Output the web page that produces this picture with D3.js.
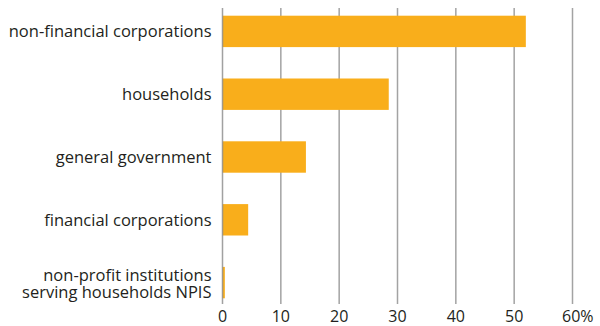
<!DOCTYPE html>
<html>
<head>
<meta charset="utf-8">
<script src="https://cdn.jsdelivr.net/npm/d3@7"></script>
<style>
  body { margin: 0; background: #fff; }
  svg { display: block; font-family: 'Open Sans', sans-serif; }
  .cat { font-size: 16.5px; fill: #231f20; }
  .tick-label { font-size: 16px; fill: #231f20; }
</style>
</head>
<body>
<svg width="600" height="326"></svg>
<script>
const categories = [
  ['non-financial corporations'],
  ['households'],
  ['general government'],
  ['financial corporations'],
  ['non-profit institutions', 'serving households NPIS']
];
const values = [52.0, 28.5, 14.3, 4.4, 0.4];
const tickValues = [0, 10, 20, 30, 40, 50, 60];
const tickLabels = ['0', '10', '20', '30', '40', '50', '60%'];

const svg = d3.select('svg'),
    margin = {top: 0, left: 222.5, right: 27.5, bottom: 12},
    width = +svg.attr('width') - margin.left - margin.right,
    height = +svg.attr('height') - margin.top - margin.bottom;

const barColor = '#f9ae1b';

const x = d3.scaleLinear().domain([0, 60]).range([0, width]);
const y = d3.scaleBand().domain(d3.range(values.length)).range([0, height]).paddingInner(0.5).paddingOuter(0.25);

const g = svg.append('g')
  .attr('transform', 'translate(' + margin.left + ',' + margin.top + ')');

// gridlines behind bars
g.selectAll('.grid')
  .data(tickValues.filter(function(d) { return d !== 0; }))
  .enter().append('line')
    .attr('class', 'grid')
    .attr('x1', function(d) { return x(d); })
    .attr('x2', function(d) { return x(d); })
    .attr('y1', 8)
    .attr('y2', 304)
    .attr('stroke', '#a3a3a3')
    .attr('stroke-width', 1.5);

g.selectAll('.bar')
  .data(values)
  .enter().append('rect')
    .attr('class', 'bar')
    .attr('x', x(0))
    .attr('y', function(d, i) { return y(i); })
    .attr('width', function(d) { return x(d) - x(0); })
    .attr('height', y.bandwidth())
    .attr('fill', barColor);

// zero line on top
g.append('line')
  .attr('x1', x(0)).attr('x2', x(0))
  .attr('y1', 8).attr('y2', 304)
  .attr('stroke', '#8a8a8a')
  .attr('stroke-opacity', 0.8)
  .attr('stroke-width', 1.5);

g.selectAll('.tick-label')
  .data(tickValues)
  .enter().append('text')
    .attr('class', 'tick-label')
    .attr('x', function(d) { return x(d); })
    .attr('y', 322)
    .attr('text-anchor', function(d, i) { return i === tickValues.length - 1 ? 'start' : 'middle'; })
    .attr('dx', function(d, i) { return i === tickValues.length - 1 ? -10.5 : 0; })
    .text(function(d, i) { return tickLabels[i]; });

const cat = g.selectAll('.cat')
  .data(categories)
  .enter().append('text')
    .attr('class', 'cat')
    .attr('text-anchor', 'end')
    .attr('x', -11)
    .attr('y', function(d, i) { return y(i) + y.bandwidth() / 2; });

cat.selectAll('tspan')
  .data(function(d) { return d.map(function(t, j) { return {t: t, j: j, n: d.length}; }); })
  .enter().append('tspan')
    .attr('x', -11)
    .attr('dy', function(d) { return d.j === 0 ? (d.n === 1 ? '0.35em' : '-0.12em') : '1.05em'; })
    .text(function(d) { return d.t; });
</script>
</body>
</html>
